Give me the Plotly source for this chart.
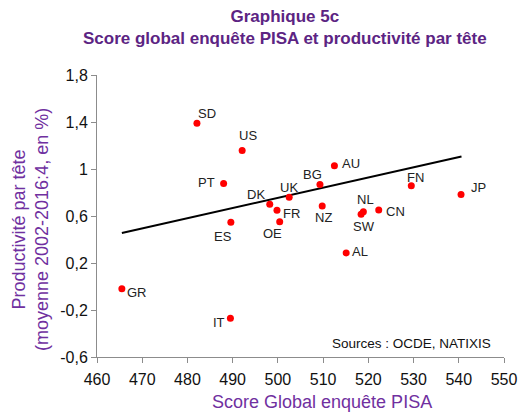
import plotly.graph_objects as go

# ---- data ----
countries = ["SD", "US", "PT", "DK", "UK", "FR", "OE", "ES", "AU", "BG",
             "NZ", "NL", "SW", "CN", "FN", "JP", "AL", "GR", "IT"]
pisa_score = [482.1, 492.1, 488.0, 498.2, 502.5, 499.8, 500.4, 489.6, 512.5, 509.3,
              509.8, 518.9, 518.4, 522.3, 529.5, 540.5, 515.1, 465.5, 489.5]
productivity = [1.39, 1.157, 0.877, 0.70, 0.76, 0.648, 0.552, 0.546, 1.028, 0.869,
                0.685, 0.637, 0.614, 0.651, 0.858, 0.784, 0.286, -0.02, -0.27]
trend_x = [465.5, 540.6]
trend_y = [0.456, 1.107]
x_ticks = [460, 470, 480, 490, 500, 510, 520, 530, 540, 550]
y_ticks = [-0.6, -0.2, 0.2, 0.6, 1.0, 1.4, 1.8]
y_ticklabels = ["-0,6", "-0,2", "0,2", "0,6", "1", "1,4", "1,8"]

# ---- label offsets (pixels), styling only ----
label_shift = {
    "SD": (10, 10), "US": (6, 15), "PT": (-17, 1), "DK": (-14, 10), "UK": (0, 10),
    "FR": (15, -3), "OE": (-7, -12), "ES": (-8, -14), "AU": (17, 2), "BG": (-7, 10),
    "NZ": (1, -11), "NL": (2, 12), "SW": (3, -12), "CN": (17, -1), "FN": (4, 8),
    "JP": (17, 7), "AL": (14, 1), "GR": (15, -4), "IT": (-11, -4),
}

FONT = "Liberation Sans, Arial, sans-serif"
L, R, T, B = 97, 15, 75, 59
W, H = 519, 416
PW, PH = W - L - R, H - T - B


def px_x(p):
    return (p - L) / PW


def px_y(p):
    return (H - B - p) / PH


fig = go.Figure()
fig.add_trace(go.Scatter(x=trend_x, y=trend_y, mode="lines",
                         line=dict(color="black", width=2),
                         hoverinfo="skip", showlegend=False))
fig.add_trace(go.Scatter(x=pisa_score, y=productivity, mode="markers",
                         marker=dict(color="#FF0000", size=7),
                         text=countries, showlegend=False))

annotations = []
for c, xv, yv in zip(countries, pisa_score, productivity):
    dx, dy = label_shift[c]
    annotations.append(dict(x=xv, y=yv, xref="x", yref="y", text=c, showarrow=False,
                            xshift=dx, yshift=dy,
                            font=dict(family=FONT, size=13, color="#222222")))

annotations += [
    dict(text="<b>Graphique 5c</b><br><b>Score global enquête PISA et productivité par tête</b>",
         x=px_x(285), y=px_y(27.5), xref="paper", yref="paper", showarrow=False,
         xanchor="center", yanchor="middle",
         font=dict(family=FONT, size=17, color="#5C2483")),
    dict(text="Score Global enquête PISA", x=px_x(322), y=px_y(402),
         xref="paper", yref="paper", showarrow=False, xanchor="center", yanchor="middle",
         font=dict(family=FONT, size=18, color="#7030A0")),
    dict(text="Productivité par tête<br>(moyenne 2002-2016:4, en %)", x=px_x(30), y=px_y(230),
         xref="paper", yref="paper", showarrow=False, xanchor="center", yanchor="middle",
         textangle=-90,
         font=dict(family=FONT, size=18, color="#7030A0")),
    dict(text="Sources : OCDE, NATIXIS", x=px_x(411), y=px_y(343),
         xref="paper", yref="paper", showarrow=False, xanchor="center", yanchor="middle",
         font=dict(family=FONT, size=13.5, color="#111111")),
]

fig.update_layout(
    width=W, height=H,
    margin=dict(l=L, r=R, t=T, b=B, pad=0),
    paper_bgcolor="white", plot_bgcolor="white",
    annotations=annotations,
    xaxis=dict(range=[460, 550], tickvals=x_ticks, ticktext=[str(v) for v in x_ticks],
               showgrid=False, zeroline=False, showline=True, linecolor="#8C8C8C",
               linewidth=1, ticks="outside", ticklen=5, tickcolor="#8C8C8C",
               automargin=False, ticklabelstandoff=3,
               tickfont=dict(family=FONT, size=16, color="#111111")),
    yaxis=dict(range=[-0.6, 1.8], tickvals=y_ticks, ticktext=y_ticklabels,
               showgrid=False, zeroline=False, showline=True, linecolor="#8C8C8C",
               linewidth=1, ticks="outside", ticklen=5, tickcolor="#8C8C8C",
               automargin=False,
               tickfont=dict(family=FONT, size=16, color="#111111")),
)

fig.write_html("out.html", config={"displayModeBar": False},
               post_script="document.body.style.margin='0';document.body.style.overflow='hidden';")
